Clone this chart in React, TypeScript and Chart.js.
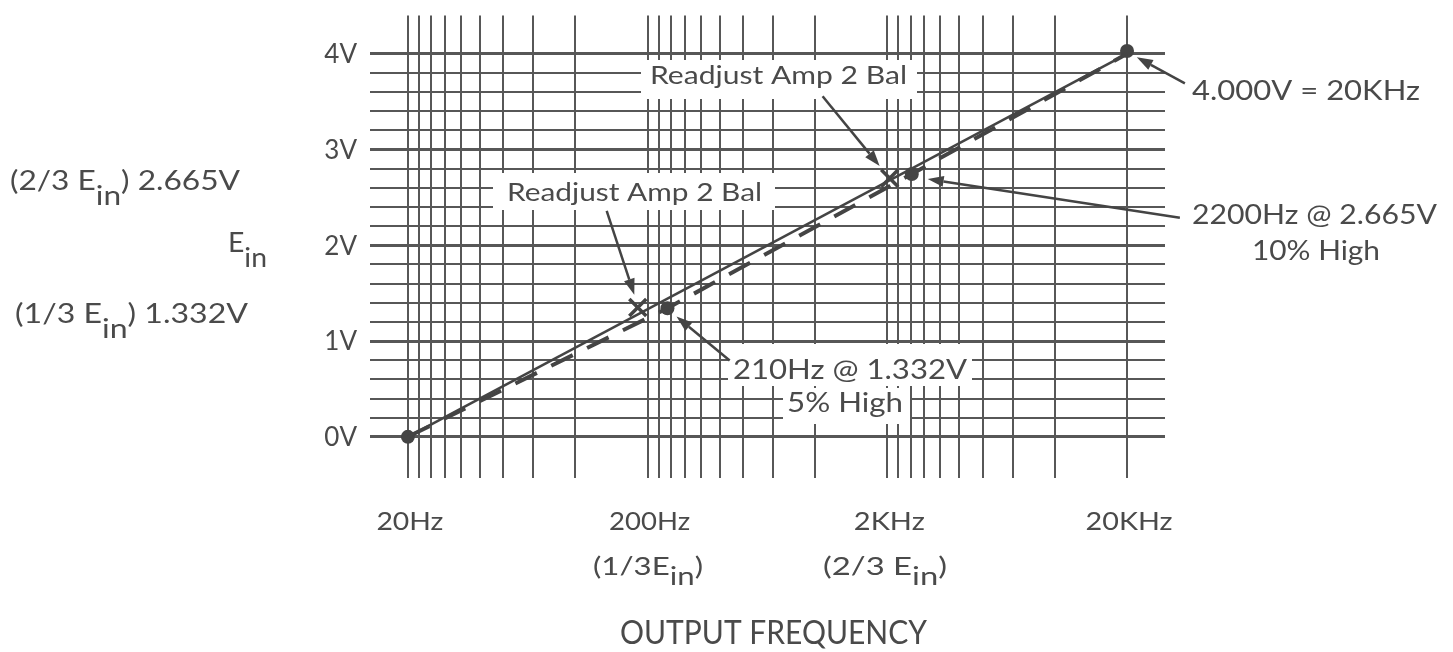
import React, { useEffect, useRef } from 'react';
import { Chart, registerables } from 'chart.js';

Chart.register(...registerables);

// ---------- data ----------
const PAPER_DECADES = [20, 200, 2000];          // start of each decade on the (mirrored) log paper
const PAPER_DIVISORS = [10, 9, 8, 7, 6, 5, 4, 3, 2]; // ruling of one decade
const PAPER_END = 20000;
const VOLT_GRID = [0, 0.2, 0.4, 0.6, 0.8, 1, 1.2, 1.4, 1.6, 1.8, 2, 2.2, 2.4, 2.6, 2.8, 3, 3.2, 3.4, 3.6, 3.8, 4];

const X_TICK_VALUES = [20, 200, 2000, 20000];
const X_TICK_LABELS = ['20Hz', '200Hz', '2KHz', '20KHz'];
const Y_TICK_VALUES = [0, 1, 2, 3, 4];
const Y_TICK_LABELS = ['0V', '1V', '2V', '3V', '4V'];

const IDEAL_FREQ = [20, 20000];
const IDEAL_VOLT = [0, 4];
const MEASURED_FREQ = [20, 242, 2530, 20000];
const MEASURED_VOLT = [0, 1.343, 2.745, 4.0];
const DOT_FREQ = [20, 242, 2530, 20000];
const DOT_VOLT = [0, 1.343, 2.745, 4.03];
const READJUST_FREQ = [182, 2046];
const READJUST_VOLT = [1.35, 2.7];

// ---------- styling ----------
const FONT = 'Lato, "Open Sans", sans-serif';
const TEXT_COLOR = '#4a4a4a';
const INK = '#444444';
const GRID_COLOR = '#575757';
const CAP = 0.36;

type Run = [string, boolean?];
type TextSpec = { runs: Run[]; x: number; y: number; size: number; align: 'left' | 'center' | 'right'; width?: number; sub?: number };

const GRID_FREQS: number[] = (() => {
  const out: number[] = [];
  for (const d of PAPER_DECADES) for (const k of PAPER_DIVISORS) out.push((d * 10) / k);
  out.push(PAPER_END);
  return out;
})();

function drawRich(ctx: CanvasRenderingContext2D, t: TextSpec) {
  ctx.save();
  ctx.font = `${t.size}px ${FONT}`;
  ctx.fillStyle = TEXT_COLOR;
  ctx.textBaseline = 'alphabetic';
  ctx.textAlign = 'left';
  const widths = t.runs.map((r) => ctx.measureText(r[0]).width);
  const nat = widths.reduce((a, b) => a + b, 0);
  const sx = t.width ? t.width / nat : 1;
  const total = nat * sx;
  const left = t.align === 'right' ? t.x - total : t.align === 'center' ? t.x - total / 2 : t.x;
  ctx.translate(left, t.y + CAP * t.size);
  ctx.scale(sx, 1);
  let cx = 0;
  t.runs.forEach((r, i) => {
    ctx.fillText(r[0], cx, r[1] ? (t.sub ?? 0.45) * t.size : 0);
    cx += widths[i];
  });
  ctx.restore();
}

// annotation layout
const BOXES = [
  [641, 60, 276, 39],
  [493, 173, 282, 37],
  [728, 344, 244, 42],
  [783, 388, 127, 36],
];
const IN_PLOT_TEXTS: TextSpec[] = [
  { runs: [['Readjust Amp 2 Bal']], x: 650, y: 75, size: 25, align: 'left', width: 257 },
  { runs: [['Readjust Amp 2 Bal']], x: 507, y: 192, size: 25, align: 'left', width: 255 },
  { runs: [['210Hz @ 1.332V']], x: 733, y: 370, size: 26, align: 'left', width: 234 },
  { runs: [['5% High']], x: 787, y: 403, size: 26, align: 'left', width: 116 },
];
const OUTSIDE_TEXTS: TextSpec[] = [
  { runs: [['(2/3 E'], ['in', true], [') 2.665V']], x: 10, y: 181, size: 26, align: 'left', width: 230, sub: 0.55 },
  { runs: [['E'], ['in', true]], x: 228, y: 243, size: 26, align: 'left', width: 39, sub: 0.55 },
  { runs: [['(1/3 E'], ['in', true], [') 1.332V']], x: 15, y: 314, size: 26, align: 'left', width: 233, sub: 0.55 },
  { runs: [['4.000V = 20KHz']], x: 1192, y: 91, size: 26, align: 'left', width: 228 },
  { runs: [['2200Hz @ 2.665V']], x: 1192, y: 215, size: 26, align: 'left', width: 245 },
  { runs: [['10% High']], x: 1252, y: 251, size: 26, align: 'left', width: 128 },
  { runs: [['(1/3E'], ['in', true], [')']], x: 648, y: 566, size: 25, align: 'center', width: 110, sub: 0.4 },
  { runs: [['(2/3 E'], ['in', true], [')']], x: 885, y: 566, size: 25, align: 'center', width: 124, sub: 0.4 },
  { runs: [['OUTPUT FREQUENCY']], x: 773.5, y: 632, size: 32, align: 'center', width: 307 },
];
const X_TICK_WIDTHS = [67, 81, 71, 87];
// arrows in data coordinates [freq, volts]
const ARROWS: { from: [number, number]; to: [number, number] }[] = [
  { from: [1074, 3.556], to: [1858, 2.828] },
  { from: [135, 2.36], to: [176, 1.484] },
  { from: [34860, 3.692], to: [21970, 3.963] },
  { from: [33220, 2.287], to: [2947, 2.693] },
  { from: [440, 0.798], to: [264, 1.256] },
];

const annotationPlugin = {
  id: 'paperAnnotations',
  beforeDatasetsDraw(chart: any) {
    const ctx: CanvasRenderingContext2D = chart.ctx;
    ctx.save();
    ctx.fillStyle = '#ffffff';
    for (const b of BOXES) ctx.fillRect(b[0], b[1], b[2], b[3]);
    ctx.restore();
    for (const t of IN_PLOT_TEXTS) drawRich(ctx, t);
  },
  afterDatasetsDraw(chart: any) {
    const ctx: CanvasRenderingContext2D = chart.ctx;
    const xs = chart.scales.x;
    const ys = chart.scales.y;
    ctx.save();
    ctx.strokeStyle = INK;
    ctx.fillStyle = INK;
    ctx.lineWidth = 2.5;
    for (const a of ARROWS) {
      const x1 = xs.getPixelForValue(a.from[0]);
      const y1 = ys.getPixelForValue(a.from[1]);
      const x2 = xs.getPixelForValue(a.to[0]);
      const y2 = ys.getPixelForValue(a.to[1]);
      const ang = Math.atan2(y2 - y1, x2 - x1);
      const len = 16;
      const hw = 5.5;
      const bx = x2 - len * Math.cos(ang);
      const by = y2 - len * Math.sin(ang);
      ctx.beginPath();
      ctx.moveTo(x1, y1);
      ctx.lineTo(bx, by);
      ctx.stroke();
      ctx.beginPath();
      ctx.moveTo(x2, y2);
      ctx.lineTo(bx + hw * Math.sin(ang), by - hw * Math.cos(ang));
      ctx.lineTo(bx - hw * Math.sin(ang), by + hw * Math.cos(ang));
      ctx.closePath();
      ctx.fill();
    }
    ctx.restore();
  },
  afterDraw(chart: any) {
    const ctx: CanvasRenderingContext2D = chart.ctx;
    const xs = chart.scales.x;
    const ys = chart.scales.y;
    Y_TICK_VALUES.forEach((v, i) => {
      drawRich(ctx, { runs: [[Y_TICK_LABELS[i]]], x: 357, y: ys.getPixelForValue(v), size: 26, align: 'right' });
    });
    X_TICK_VALUES.forEach((v, i) => {
      drawRich(ctx, { runs: [[X_TICK_LABELS[i]]], x: xs.getPixelForValue(v) + 2, y: 521, size: 25, align: 'center', width: X_TICK_WIDTHS[i] });
    });
    for (const t of OUTSIDE_TEXTS) drawRich(ctx, t);
  },
};

export default function App() {
  const ref = useRef<HTMLCanvasElement>(null);
  useEffect(() => {
    if (!ref.current) return;
    const chart = new Chart(ref.current, {
      type: 'scatter',
      data: {
        datasets: [
          {
            label: 'Ideal',
            data: IDEAL_FREQ.map((f, i) => ({ x: f, y: IDEAL_VOLT[i] })),
            showLine: true,
            borderColor: INK,
            borderWidth: 2.5,
            pointRadius: 0,
          },
          {
            label: 'Measured',
            data: MEASURED_FREQ.map((f, i) => ({ x: f, y: MEASURED_VOLT[i] })),
            showLine: true,
            borderColor: INK,
            borderWidth: 4,
            borderDash: [24, 16],
            pointRadius: 0,
          },
          {
            label: 'Points',
            data: DOT_FREQ.map((f, i) => ({ x: f, y: DOT_VOLT[i] })),
            showLine: false,
            pointRadius: 7,
            pointBackgroundColor: INK,
            pointBorderWidth: 0,
          },
          {
            label: 'Readjust',
            data: READJUST_FREQ.map((f, i) => ({ x: f, y: READJUST_VOLT[i] })),
            showLine: false,
            pointStyle: 'crossRot',
            pointRadius: 12,
            pointBorderWidth: 3.5,
            pointBorderColor: INK,
          },
        ],
      } as any,
      options: {
        animation: false,
        responsive: false,
        maintainAspectRatio: false,
        layout: { padding: { left: 370, right: 288, top: 14, bottom: 174 } },
        plugins: { legend: { display: false }, tooltip: { enabled: false } },
        scales: {
          x: {
            type: 'logarithmic',
            min: 13.9,
            max: 28800,
            afterBuildTicks: (s: any) => {
              s.ticks = GRID_FREQS.map((v) => ({ value: v }));
            },
            ticks: { display: false },
            grid: { color: GRID_COLOR, lineWidth: 2, drawTicks: false },
            border: { display: false },
          },
          y: {
            type: 'linear',
            min: -0.43,
            max: 4.4,
            afterBuildTicks: (s: any) => {
              s.ticks = VOLT_GRID.map((v) => ({ value: v }));
            },
            ticks: { display: false },
            grid: {
              color: GRID_COLOR,
              lineWidth: (c: any) => (Math.abs(c.tick.value - Math.round(c.tick.value)) < 1e-6 ? 3 : 2),
              drawTicks: false,
            },
            border: { display: false },
          },
        },
      } as any,
      plugins: [annotationPlugin],
    });
    return () => chart.destroy();
  }, []);
  return (
    <div style={{ position: 'fixed', left: 0, top: 0, width: 1453, height: 652, background: '#fff' }}>
      <canvas ref={ref} width={1453} height={652} style={{ width: 1453, height: 652, display: 'block' }} />
    </div>
  );
}
